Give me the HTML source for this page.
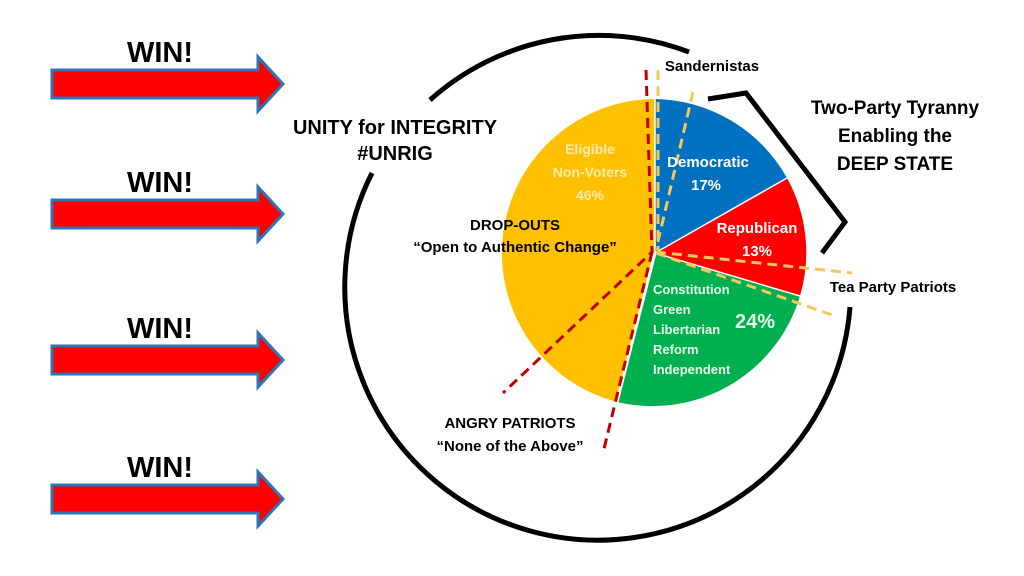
<!DOCTYPE html>
<html><head><meta charset="utf-8"><style>
html,body{margin:0;padding:0;background:#fff;}
svg{display:block;font-family:"Liberation Sans",sans-serif;font-weight:bold;}
</style></head><body>
<svg width="1024" height="576" viewBox="0 0 1024 576" xmlns="http://www.w3.org/2000/svg">
<defs>
<g id="arr"><path d="M52,-14 L258,-14 L258,-27 L283,0 L258,27 L258,14 L52,14 Z" fill="#ff0000" stroke="#2e75b6" stroke-width="3" stroke-linejoin="miter"/></g>
</defs>
<use href="#arr" y="84"/>
<use href="#arr" y="214"/>
<use href="#arr" y="360"/>
<use href="#arr" y="499"/>
<g font-size="29" text-anchor="middle" fill="#000">
<text x="160" y="62">WIN!</text>
<text x="160" y="192">WIN!</text>
<text x="160" y="338">WIN!</text>
<text x="160" y="477">WIN!</text>
</g>
<!-- outer circle arcs -->
<path d="M689,52 A253,253 0 0,0 430,100" fill="none" stroke="#000" stroke-width="5"/>
<path d="M372,173 A253,253 0 1,0 850,307" fill="none" stroke="#000" stroke-width="5"/>
<!-- bracket -->
<path d="M708,99 L746,93 L845,222 L822,253" fill="none" stroke="#000" stroke-width="5"/>
<!-- pie center (655,253) -->
<path d="M655,253 L617,402 A154,154 0 0,1 655,99 Z" fill="#ffc000"/>
<path d="M655,253 L655,99 A154,154 0 0,1 787,178 Z" fill="#0070c0"/>
<path d="M655,253 L787,178 A154,154 0 0,1 800,296 Z" fill="#ff0000"/>
<path d="M655,253 L800,296 A154,154 0 0,1 617,402 Z" fill="#00b050"/>
<g stroke="#fff" stroke-width="1.5" fill="none">
<line x1="655" y1="253" x2="655" y2="99"/><line x1="655" y1="253" x2="787" y2="178"/><line x1="655" y1="253" x2="800" y2="296"/><line x1="655" y1="253" x2="617" y2="402" stroke-width="3"/>
</g>
<!-- dashed lines -->
<g fill="none" stroke-width="3" stroke-dasharray="10,6">
<path d="M646,70 L652,252 L503,393" stroke="#c00000"/>
<path d="M652,252 L603,453" stroke="#c00000"/>
<path d="M658,70 L658,250" stroke="#f2c85a"/>
<path d="M693,92 L656,250" stroke="#f2c85a"/>
<path d="M656,252 L852,273" stroke="#f2c85a"/>
<path d="M656,253 L832,315" stroke="#f2c85a"/>
</g>
<!-- texts -->
<g fill="#000" text-anchor="middle">
<text x="395" y="134" font-size="20">UNITY for INTEGRITY</text>
<text x="395" y="160" font-size="20">#UNRIG</text>
<text x="515" y="230" font-size="15">DROP-OUTS</text>
<text x="515" y="252" font-size="15">“Open to Authentic Change”</text>
<text x="510" y="428" font-size="15">ANGRY PATRIOTS</text>
<text x="510" y="451" font-size="15">“None of the Above”</text>
<text x="712" y="71" font-size="15">Sandernistas</text>
<text x="895" y="114" font-size="19">Two-Party Tyranny</text>
<text x="895" y="142" font-size="19">Enabling the</text>
<text x="895" y="170" font-size="19">DEEP STATE</text>
<text x="893" y="292" font-size="15">Tea Party Patriots</text>
</g>
<g fill="#ffeab0" text-anchor="middle" font-size="14">
<text x="590" y="154">Eligible</text>
<text x="590" y="177">Non-Voters</text>
<text x="590" y="200">46%</text>
</g>
<g fill="#fff" text-anchor="middle" font-size="15">
<text x="708" y="167">Democratic</text>
<text x="706" y="190">17%</text>
<text x="757" y="233">Republican</text>
<text x="757" y="256">13%</text>
</g>
<g fill="#e8ffe8" font-size="13">
<text x="653" y="294">Constitution</text>
<text x="653" y="314">Green</text>
<text x="653" y="334">Libertarian</text>
<text x="653" y="354">Reform</text>
<text x="653" y="374">Independent</text>
<text x="735" y="328" font-size="20">24%</text>
</g>
</svg>
</body></html>
